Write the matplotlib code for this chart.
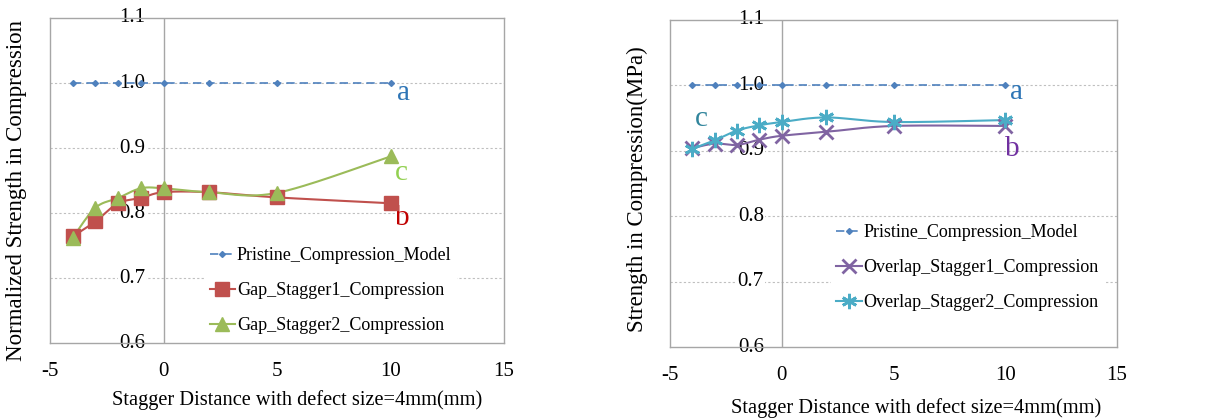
import numpy as np
import matplotlib
matplotlib.use("Agg")
import matplotlib.pyplot as plt

plt.rcParams['font.family'] = ['Liberation Serif', 'DejaVu Serif']

x = [-4, -3, -2, -1, 0, 2, 5, 10]
pristine = [1.0, 1.0, 1.0, 1.0, 1.0, 1.0, 1.0, 1.0]
gap1 = [0.764, 0.787, 0.815, 0.823, 0.832, 0.832, 0.824, 0.815]
gap2 = [0.762, 0.808, 0.823, 0.838, 0.838, 0.832, 0.831, 0.887]
over1 = [0.904, 0.911, 0.909, 0.917, 0.923, 0.929, 0.938, 0.938]
over2 = [0.903, 0.916, 0.931, 0.939, 0.944, 0.951, 0.944, 0.947]

yticks = [0.6, 0.7, 0.8, 0.9, 1.0, 1.1]
xticks = [-5, 0, 5, 10, 15]
xlabel = 'Stagger Distance with defect size=4mm(mm)'

C_PRIS = '#4F81BD'
C_GAP1 = '#C0504D'
C_GAP2 = '#9BBB59'
C_OV1 = '#8064A2'
C_OV2 = '#4BACC6'


def smooth(xs, ys, n=30):
    # Catmull-Rom style bezier through the points, in normalised axis units
    px = np.asarray(xs, float) / 20.0
    py = np.asarray(ys, float) / 0.5
    P = np.column_stack([px, py])
    P = np.vstack([P[0], P, P[-1]])
    out = []
    for i in range(1, len(P) - 2):
        p0, p1, p2, p3 = P[i - 1], P[i], P[i + 1], P[i + 2]
        t = np.linspace(0, 1, n)[:, None]
        c1 = p1 + (p2 - p0) / 6.0
        c2 = p2 - (p3 - p1) / 6.0
        seg = ((1 - t) ** 3) * p1 + 3 * ((1 - t) ** 2) * t * c1 + 3 * (1 - t) * t ** 2 * c2 + t ** 3 * p2
        out.append(seg)
    out = np.vstack(out)
    return out[:, 0] * 20.0, out[:, 1] * 0.5


def setup(ax):
    ax.set_xlim(-5, 15)
    ax.set_ylim(0.6, 1.1)
    ax.set_xticks(xticks)
    ax.set_xticklabels([str(v) for v in xticks], fontsize=15)
    ax.set_yticks(yticks)
    ax.set_yticklabels([])
    ax.tick_params(length=0, pad=14)
    for s in ax.spines.values():
        s.set_color('#A6A6A6')
        s.set_linewidth(1.0)
    for v in yticks[1:-1]:
        ax.axhline(v, color='#BFBFBF', lw=0.8, ls=(0, (2, 2)), zorder=0.5)
    ax.axvline(0, color='#A6A6A6', lw=1.0, zorder=0.6)
    for v in yticks:
        ax.text(-0.8, v, '%.1f' % v, ha='right', va='center', fontsize=15,
                zorder=1, bbox=dict(boxstyle='square,pad=0.05', fc='white', ec='none'))
    ax.set_xlabel(xlabel, fontsize=14.7)


def add_legend(ax, anchor):
    leg = ax.legend(loc='upper left', bbox_to_anchor=anchor, fontsize=13, frameon=True,
                    facecolor='white', edgecolor='none', framealpha=1, fancybox=False,
                    handlelength=1.4, handletextpad=0.1, labelspacing=1.0, borderpad=0.3)
    leg.set_zorder(1.2)


fig = plt.figure(figsize=(12.24, 4.19), dpi=100)
ax1 = fig.add_axes([50 / 1224, 76 / 419, 454 / 1224, 325 / 419])
ax2 = fig.add_axes([670 / 1224, 72 / 419, 447 / 1224, 327 / 419])

# left panel
setup(ax1)
ax1.plot(x, pristine, color=C_PRIS, ls=(0, (5, 3)), lw=1.2, marker='D', ms=3,
         label='Pristine_Compression_Model', zorder=3)
sx, sy = smooth(x, gap1)
ax1.plot(sx, sy, color=C_GAP1, lw=1.5, zorder=3)
ax1.plot(x, gap1, ls='none', marker='s', ms=10, color=C_GAP1, zorder=4)
ax1.plot([], [], color=C_GAP1, lw=1.5, marker='s', ms=10, label='Gap_Stagger1_Compression')
sx, sy = smooth(x, gap2)
ax1.plot(sx, sy, color=C_GAP2, lw=1.5, zorder=3)
ax1.plot(x, gap2, ls='none', marker='^', ms=10, color=C_GAP2, zorder=4)
ax1.plot([], [], color=C_GAP2, lw=1.5, marker='^', ms=10, label='Gap_Stagger2_Compression')
ax1.text(10.3, 0.984, 'a', color='#2E75B6', fontsize=21, va='center')
ax1.text(10.2, 0.793, 'b', color='#C00000', fontsize=21, va='center')
ax1.text(10.2, 0.862, 'c', color='#92D050', fontsize=21, va='center')
ax1.set_ylabel('Normalized Strength in Compression', fontsize=16.5)
ax1.yaxis.set_label_coords(-0.05, 0.47)
ax1.xaxis.set_label_coords(0.545, -0.145)
add_legend(ax1, (0.32, 0.34))

# right panel
setup(ax2)
ax2.plot(x, pristine, color=C_PRIS, ls=(0, (5, 3)), lw=1.2, marker='D', ms=3,
         label='Pristine_Compression_Model', zorder=3)
sx, sy = smooth(x, over1)
ax2.plot(sx, sy, color=C_OV1, lw=1.5, zorder=3)
ax2.plot(x, over1, ls='none', marker='x', ms=10, mew=2, color=C_OV1, zorder=4)
ax2.plot([], [], color=C_OV1, lw=1.5, marker='x', ms=10, mew=2, label='Overlap_Stagger1_Compression')
sx, sy = smooth(x, over2)
ax2.plot(sx, sy, color=C_OV2, lw=1.5, zorder=3)
ax2.plot(x, over2, ls='none', marker=(6, 2, 0), ms=11, mew=2, color=C_OV2, zorder=4)
ax2.plot([], [], color=C_OV2, lw=1.5, marker=(6, 2, 0), ms=11, mew=2, label='Overlap_Stagger2_Compression')
ax2.text(10.2, 0.99, 'a', color='#2E75B6', fontsize=21, va='center')
ax2.text(10.0, 0.903, 'b', color='#7030A0', fontsize=21, va='center')
ax2.text(-3.9, 0.949, 'c', color='#31859C', fontsize=21, va='center')
ax2.set_ylabel('Strength in Compression(MPa)', fontsize=16.5)
ax2.yaxis.set_label_coords(-0.05, 0.483)
ax2.xaxis.set_label_coords(0.55, -0.155)
add_legend(ax2, (0.34, 0.42))

fig.savefig('out.png', dpi=100)
